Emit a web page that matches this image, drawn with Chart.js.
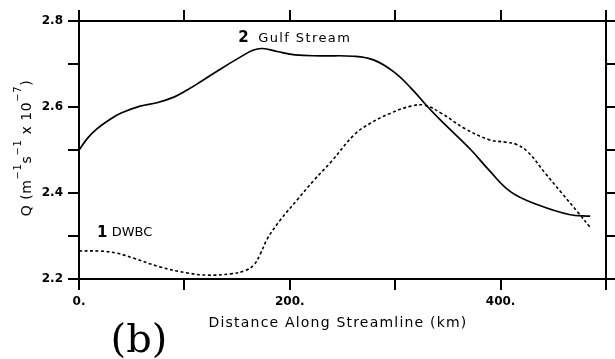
<!DOCTYPE html>
<html>
<head>
<meta charset="utf-8">
<script src="https://cdn.jsdelivr.net/npm/chart.js@4.4.0/dist/chart.umd.min.js"></script>
<style>
  body { margin: 0; background: #fff; }
  canvas { display: block; }
</style>
</head>
<body>
<canvas id="chart" width="615" height="359"></canvas>
<script>
// Potential vorticity Q (m^-1 s^-1 x 1e-7) along the streamline, km
const gsDist = [0, 8, 17, 30, 40, 58, 74, 90, 103, 115, 134, 153, 165, 174, 188, 205, 230, 260, 280, 299, 315, 331, 344, 372, 389, 410, 436, 465, 485];
const gsQ = [2.500, 2.527, 2.549, 2.572, 2.586, 2.602, 2.610, 2.623, 2.640, 2.658, 2.688, 2.716, 2.732, 2.736, 2.729, 2.721, 2.719, 2.718, 2.709, 2.681, 2.644, 2.600, 2.567, 2.500, 2.453, 2.402, 2.372, 2.350, 2.346];

const dwbcDist = [0, 20, 36, 51, 77, 103, 122, 144, 158, 166, 172, 179, 191, 207, 223, 239, 261, 277, 296, 315, 328, 344, 366, 389, 405, 415, 426, 442, 458, 474, 485];
const dwbcQ = [2.265, 2.265, 2.260, 2.249, 2.228, 2.214, 2.209, 2.212, 2.220, 2.233, 2.258, 2.295, 2.337, 2.384, 2.430, 2.472, 2.535, 2.563, 2.586, 2.602, 2.604, 2.585, 2.550, 2.524, 2.518, 2.513, 2.495, 2.447, 2.400, 2.353, 2.320];

const xLabelled = [0, 200, 400];
const yLabelled = [2.2, 2.4, 2.6, 2.8];

const FONT = 'DejaVu Sans';

function toPoints(xs, ys) {
    return xs.map((x, i) => ({ x: x, y: ys[i] }));
}

// shared look for the four frame axes: black border, outward ticks, no grid
function frameAxis(position, size, extra) {
    const horizontal = position === 'top' || position === 'bottom';
    return Object.assign({
        type: 'linear',
        position: position,
        grid: {
            drawOnChartArea: false,
            drawTicks: true,
            tickLength: 11,
            tickWidth: 2,
            tickColor: '#000',
            color: '#000',
            lineWidth: 2
        },
        border: { display: true, color: '#000', width: 2 },
        afterFit: function (scale) {
            if (horizontal) scale.height = size; else scale.width = size;
        }
    }, extra);
}

const xRange = { min: 0, max: 500 };
const yRange = { min: 2.2, max: 2.8 };

const tickFont = { family: FONT, size: 12, weight: 'bold' };

// draws a run of text pieces, some raised as superscripts
function drawRich(ctx, parts, cx, baseY, spacing) {
    let total = 0;
    parts.forEach(p => {
        ctx.font = p.size + 'px "' + FONT + '"';
        ctx.letterSpacing = spacing + 'px';
        p.w = ctx.measureText(p.text).width;
        total += p.w;
    });
    let x = cx - total / 2;
    ctx.textAlign = 'left';
    ctx.textBaseline = 'alphabetic';
    parts.forEach(p => {
        ctx.font = p.size + 'px "' + FONT + '"';
        ctx.letterSpacing = spacing + 'px';
        ctx.fillText(p.text, x, baseY - (p.rise || 0));
        x += p.w;
    });
}

const labels = {
    id: 'labels',
    afterDraw(chart) {
        const ctx = chart.ctx;
        const xs = chart.scales.x;
        const ys = chart.scales.y;
        ctx.save();
        ctx.fillStyle = '#000';

        // curve names
        ctx.textBaseline = 'middle';
        ctx.textAlign = 'left';
        ctx.letterSpacing = '0px';
        ctx.font = 'bold 15px "' + FONT + '"';
        ctx.fillText('2', xs.getPixelForValue(151), ys.getPixelForValue(2.760));
        ctx.fillText('1', xs.getPixelForValue(17), ys.getPixelForValue(2.307));
        ctx.font = '13px "' + FONT + '"';
        ctx.letterSpacing = '1.4px';
        ctx.fillText('Gulf Stream', xs.getPixelForValue(170), ys.getPixelForValue(2.760));
        ctx.letterSpacing = '0px';
        ctx.fillText('DWBC', xs.getPixelForValue(31), ys.getPixelForValue(2.307));

        // x axis title
        ctx.font = '14px "' + FONT + '"';
        ctx.letterSpacing = '1.2px';
        ctx.textAlign = 'center';
        ctx.fillText('Distance Along Streamline (km)', 338, 323);

        // y axis title, rotated
        ctx.save();
        ctx.translate(31, 148);
        ctx.rotate(-Math.PI / 2);
        drawRich(ctx, [
            { text: 'Q (m', size: 14 },
            { text: '\u22121', size: 10, rise: 10 },
            { text: 's', size: 14 },
            { text: '\u22121', size: 10, rise: 10 },
            { text: ' x 10', size: 14 },
            { text: '\u22127', size: 10, rise: 10 },
            { text: ')', size: 14 }
        ], 0, 0, 0.6);
        ctx.restore();

        // panel letter
        ctx.letterSpacing = '0px';
        ctx.font = '40px "DejaVu Serif"';
        ctx.textAlign = 'center';
        ctx.textBaseline = 'alphabetic';
        ctx.fillText('(b)', 139, 352);

        ctx.restore();
    }
};

new Chart(document.getElementById('chart'), {
    type: 'line',
    data: {
        datasets: [
            {
                label: 'Gulf Stream',
                data: toPoints(gsDist, gsQ),
                borderColor: '#000',
                borderWidth: 1.7,
                pointRadius: 0,
                tension: 0.4,
                xAxisID: 'x',
                yAxisID: 'y'
            },
            {
                label: 'DWBC',
                data: toPoints(dwbcDist, dwbcQ),
                borderColor: '#000',
                borderWidth: 1.6,
                borderDash: [3, 2.5],
                pointRadius: 0,
                tension: 0.4,
                xAxisID: 'x',
                yAxisID: 'y'
            }
        ]
    },
    options: {
        responsive: false,
        animation: false,
        layout: { padding: 0 },
        plugins: {
            legend: { display: false },
            tooltip: { enabled: false }
        },
        scales: {
            x: frameAxis('bottom', 80, Object.assign({
                ticks: {
                    stepSize: 100,
                    autoSkip: false,
                    maxRotation: 0,
                    padding: 5,
                    color: '#000',
                    font: tickFont,
                    callback: v => xLabelled.includes(v) ? v + '.' : ''
                }
            }, xRange)),
            xTop: frameAxis('top', 21, Object.assign({
                ticks: { stepSize: 100, autoSkip: false, display: false }
            }, xRange)),
            y: frameAxis('left', 79, Object.assign({
                ticks: {
                    stepSize: 0.1,
                    autoSkip: false,
                    padding: 5,
                    color: '#000',
                    font: tickFont,
                    callback: v => yLabelled.some(t => Math.abs(t - v) < 1e-6) ? v.toFixed(1) : ''
                }
            }, yRange)),
            yRight: frameAxis('right', 9, Object.assign({
                ticks: { stepSize: 0.1, autoSkip: false, display: false }
            }, yRange))
        }
    },
    plugins: [labels]
});
</script>
</body>
</html>
